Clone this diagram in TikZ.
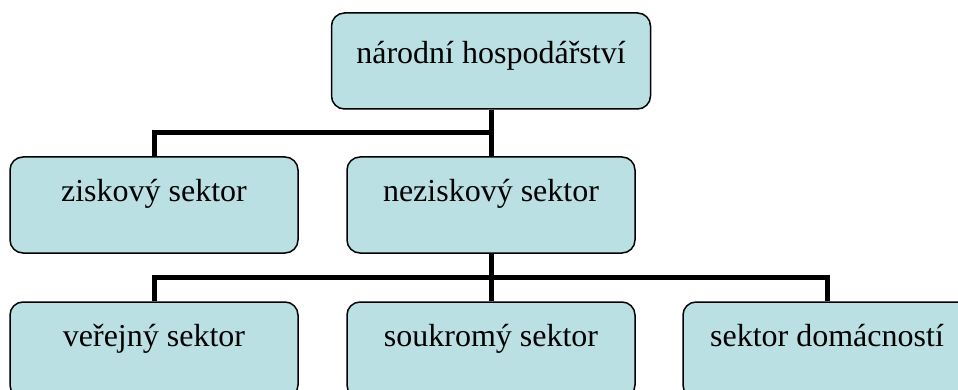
\documentclass[tikz,border=0pt]{standalone}
\usepackage{fontspec}
\setmainfont{Liberation Serif}
\definecolor{boxfill}{RGB}{187,224,227}
\begin{document}
\begin{tikzpicture}[x=1pt,y=-1pt,
  box/.style={draw=black, line width=1.5pt, fill=boxfill, rounded corners=13pt,
    minimum width=288pt, minimum height=96pt, inner sep=0pt,
    font=\fontsize{32}{38}\selectfont, text height=24pt, text depth=32pt},
  conn/.style={draw=black, line width=5pt, line join=miter}]
\useasboundingbox (0,0) rectangle (958,390);
\clip (0,0) rectangle (958,390);
\coordinate (j1) at (491,133);
\coordinate (j2) at (491,277);
\node[box, minimum width=319pt, text height=30pt, text depth=24pt] (top) at (491,61) {národní hospodářství};
\node[box] (zisk) at (154,205) {ziskový sektor};
\node[box] (nezisk) at (491,205) {neziskový sektor};
\node[box] (ver) at (154,350) {veřejný sektor};
\node[box] (souk) at (491,350) {soukromý sektor};
\node[box] (dom) at (827,350) {sektor domácností};
\draw[conn] (top.south) -- (nezisk.north);
\draw[conn] (zisk.north) |- (j1);
\draw[conn] (nezisk.south) -- (souk.north);
\draw[conn] (ver.north) |- (j2) -| (dom.north);
\end{tikzpicture}
\end{document}
